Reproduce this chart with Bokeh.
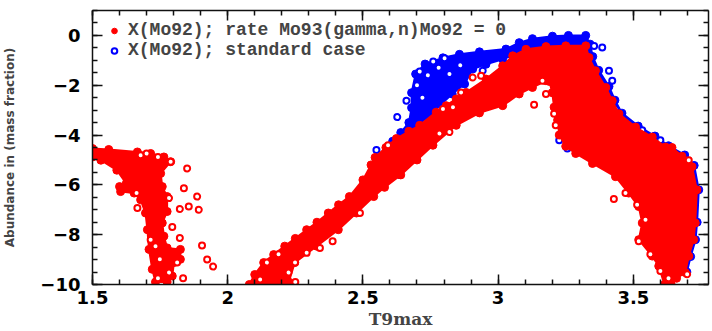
from bokeh.plotting import figure
from bokeh.models import (LinearAxis, SingleIntervalTicker, Range1d, Legend,
                          LegendItem, CustomJSTickFormatter)
from bokeh.embed import file_html
from bokeh.resources import INLINE

# ---------------- data ----------------
x_label = "T9max"
y_label = "Abundance in (mass fraction)"
red_label = "X(Mo92); rate Mo93(gamma,n)Mo92 = 0"
blue_label = "X(Mo92); standard case"

# dense red cloud, low-T9 group (outline of the saturated region)
red_left_x = [1.50, 1.56, 1.666, 1.715, 1.764, 1.789, 1.752, 1.758, 1.776, 1.776, 1.758, 1.764,
              1.776, 1.825, 1.825, 1.801, 1.795, 1.776, 1.733, 1.721, 1.709, 1.703, 1.696, 1.678,
              1.654, 1.604, 1.600, 1.625, 1.590, 1.531, 1.50]
red_left_y = [-4.54, -4.58, -4.68, -4.74, -4.88, -5.07, -5.54, -6.07, -6.47, -7.07, -7.53, -8.06,
              -8.53, -8.59, -8.99, -9.12, -9.66, -9.90, -9.90, -9.39, -8.59, -7.80, -7.13, -6.60,
              -6.33, -6.27, -6.07, -5.94, -5.41, -5.01, -4.88]

# dense red cloud, main arc (outline of the saturated region)
red_main_x = [2.080, 2.100, 2.133, 2.170, 2.211, 2.250, 2.292, 2.330, 2.372, 2.410, 2.450, 2.500,
              2.530, 2.545, 2.585, 2.624, 2.670, 2.710, 2.771, 2.808, 2.845, 2.882, 2.955, 3.017,
              3.054, 3.103, 3.177, 3.250, 3.324,
              3.336, 3.360, 3.398, 3.422, 3.447, 3.508, 3.570, 3.619, 3.643, 3.680, 3.717, 3.735,
              3.729, 3.723, 3.705, 3.692, 3.660, 3.640, 3.615,
              3.594, 3.570, 3.520, 3.533, 3.520, 3.483, 3.434, 3.349, 3.287, 3.250, 3.226, 3.220,
              3.207, 3.200, 3.190,
              3.177, 3.127, 3.078, 3.017, 2.931, 2.845, 2.759, 2.700, 2.640, 2.580, 2.540, 2.476,
              2.409, 2.329, 2.248, 2.226, 2.220]
red_main_y = [-10.0, -9.60, -9.12, -8.80, -8.46, -8.15, -7.80, -7.50, -7.13, -6.80, -6.47, -5.80,
              -5.20, -4.90, -4.50, -4.14, -3.85, -3.61, -3.08, -2.82, -2.55, -2.29, -1.75, -1.22,
              -0.82, -0.56, -0.45, -0.42, -0.42,
              -0.89, -1.42, -2.09, -2.62, -3.15, -3.68, -4.08, -4.48, -4.50, -4.85, -5.27, -6.20,
              -7.53, -8.20, -8.86, -9.52, -9.75, -10.0, -10.0,
              -9.26, -8.86, -8.20, -7.53, -6.87, -6.33, -5.67, -5.14, -4.74, -4.45, -4.00, -3.40,
              -2.88, -2.30, -1.85,
              -1.82, -2.09, -2.35, -2.82, -3.11, -3.61, -4.41, -5.00, -5.60, -6.10, -6.47, -7.13,
              -7.80, -8.46, -9.12, -9.90, -10.0]

# dense blue cloud (standard case) outline
blue_main_x = [2.610, 2.640, 2.670, 2.680, 2.680, 2.695, 2.730, 2.796, 2.857, 2.931, 3.029, 3.078,
               3.127, 3.201, 3.260, 3.324, 3.340, 3.350, 3.372, 3.410, 3.432, 3.458, 3.518, 3.580,
               3.630, 3.690, 3.725, 3.742, 3.736, 3.730, 3.712, 3.698,
               3.620, 3.560, 3.450, 3.300, 3.250, 3.100, 3.054,
               3.017, 2.955, 2.906, 2.876, 2.830, 2.790, 2.750, 2.700, 2.650]
blue_main_y = [-4.25, -3.90, -3.50, -2.90, -2.30, -1.55, -1.15, -0.90, -0.76, -0.66, -0.55, -0.29,
               -0.13, -0.03, 0.00, 0.00, -0.35, -0.85, -1.40, -2.05, -2.60, -3.12, -3.64, -4.04,
               -4.43, -4.80, -5.22, -6.20, -7.50, -8.20, -8.88, -9.50,
               -9.50, -7.00, -5.30, -4.00, -2.00, -1.00, -0.80,
               -0.96, -1.16, -1.35, -1.95, -2.35, -2.75, -3.20, -3.60, -4.00]

# isolated points
red_pts_x = [1.742, 1.789, 1.850, 1.838, 1.887, 1.856, 1.823, 1.893, 1.783, 1.666, 1.663, 1.795,
             1.823, 1.905, 1.924, 1.946, 1.835, 1.742, 1.813, 1.715, 1.733, 1.749, 1.783, 1.678,
             1.700,
             2.388, 2.341, 2.292, 2.249, 2.225, 2.188, 2.145, 2.489, 2.120, 2.250,
             2.906, 2.937, 2.863, 2.833, 2.796, 2.820, 2.783, 2.593, 3.133, 3.177, 3.164, 3.207,
             3.213,
             3.428, 3.471, 3.514, 3.520, 3.563, 3.600, 3.699, 3.705, 3.545, 3.630]
red_pts_y = [-4.88, -5.07, -5.34, -6.14, -6.47, -6.87, -6.97, -7.00, -6.53, -6.93, -6.33, -7.69,
             -8.13, -8.43, -9.00, -9.28, -9.75, -9.75, -9.12, -8.20, -8.46, -8.99, -9.52, -4.81,
             -4.74,
             -8.26, -8.53, -8.73, -9.12, -9.52, -8.79, -9.12, -7.13, -9.80, -9.90,
             -1.69, -1.62, -2.29, -2.88, -2.95, -3.88, -3.94, -4.41, -2.78, -2.35, -1.82, -3.15,
             -3.61,
             -6.57, -6.33, -6.80, -8.26, -8.79, -9.46, -9.59, -5.01, -7.40, -9.75]

blue_pts_x = [2.550, 2.636, 2.627, 2.661, 2.802, 2.943, 3.226, 3.256, 3.355, 3.385, 3.410, 3.422,
              3.434, 3.533, 3.600, 3.699, 2.700, 2.740, 2.780, 2.720, 2.820, 2.860, 2.760, 2.710]
blue_pts_y = [-4.60, -5.60, -3.28, -2.62, -0.92, -1.42, -4.21, -4.54, -0.43, -0.49, -1.42, -1.82,
              -2.95, -3.81, -4.21, -5.01, -2.00, -1.60, -1.30, -2.50, -1.55, -1.20, -1.05, -1.45]

RED = "#ff0000"
BLUE = "#0000ff"

p = figure(width=712, height=331, output_backend="svg", toolbar_location=None,
           x_range=Range1d(1.5, 3.778), y_range=Range1d(-10, 1),
           min_border_left=85, min_border_right=4, min_border_top=10, min_border_bottom=46,
           background_fill_color="white", border_fill_color="white")
p.xgrid.visible = False
p.ygrid.visible = False
p.outline_line_color = None

# blue (standard case) underneath
p.patch(blue_main_x, blue_main_y, fill_color=BLUE, line_color=BLUE, line_width=2)
p.scatter(blue_main_x, blue_main_y, size=8, fill_color=BLUE, line_color=BLUE)
r_blue = p.scatter(blue_pts_x, blue_pts_y, size=6, fill_color="white", line_color=BLUE,
                   line_width=2)

# red on top
p.patch(red_left_x, red_left_y, fill_color=RED, line_color=RED, line_width=2)
p.patch(red_main_x, red_main_y, fill_color=RED, line_color=RED, line_width=2)
r_red = p.scatter(red_main_x + red_left_x, red_main_y + red_left_y, size=8,
                  fill_color=RED, line_color=RED)
p.scatter(red_pts_x, red_pts_y, size=6, fill_color="white", line_color=RED, line_width=2)

fmt = CustomJSTickFormatter(code="""
    var s = (Math.round(tick*100)/100).toString();
    return s.replace('-', '\\u2212');
""")
blank = CustomJSTickFormatter(code="return '';")

def style_axis(ax, labels=True):
    ax.axis_line_color = "#111111"
    ax.axis_line_width = 1.5
    ax.major_tick_line_color = "#111111"
    ax.minor_tick_line_color = "#111111"
    ax.major_tick_line_width = 1.5
    ax.minor_tick_line_width = 1.5
    ax.major_tick_in = 10
    ax.major_tick_out = 0
    ax.minor_tick_in = 5
    ax.minor_tick_out = 0
    if labels:
        ax.major_label_text_font = "DejaVu Sans"
        ax.major_label_text_font_style = "bold"
        ax.major_label_text_font_size = "18px"
        ax.major_label_text_color = "black"
        ax.formatter = fmt
    else:
        ax.formatter = blank
        ax.major_label_text_font_size = "1px"
        ax.major_label_standoff = 0

xt = SingleIntervalTicker(interval=0.5, num_minor_ticks=5)
yt = SingleIntervalTicker(interval=2, num_minor_ticks=4)

for ax in p.xaxis:
    ax.ticker = xt
    style_axis(ax)
    ax.major_label_standoff = 6
    ax.axis_label = x_label
    ax.axis_label_text_font = "DejaVu Serif"
    ax.axis_label_text_font_style = "bold"
    ax.axis_label_text_font_size = "17px"
    ax.axis_label_standoff = 2
for ax in p.yaxis:
    ax.ticker = yt
    style_axis(ax)
    ax.major_label_standoff = 12
    ax.axis_label = y_label
    ax.axis_label_text_font = "DejaVu Sans"
    ax.axis_label_text_font_style = "bold"
    ax.axis_label_text_font_size = "12px"
    ax.axis_label_standoff = 20

top = LinearAxis(ticker=SingleIntervalTicker(interval=0.5, num_minor_ticks=5))
style_axis(top, labels=False)
p.add_layout(top, "above")
right = LinearAxis(ticker=SingleIntervalTicker(interval=2, num_minor_ticks=4))
style_axis(right, labels=False)
p.add_layout(right, "right")

legend = Legend(items=[LegendItem(label=red_label, renderers=[r_red]),
                       LegendItem(label=blue_label, renderers=[r_blue])],
                location=(15, 224), border_line_color=None, background_fill_alpha=0,
                label_text_font="Liberation Mono", label_text_font_style="bold",
                label_text_font_size="18px", label_text_line_height=0.9,
                glyph_width=14, glyph_height=19,
                label_height=19, label_standoff=7, spacing=-4, padding=0, margin=0)
p.add_layout(legend)

open("out.html", "w").write(file_html(p, INLINE))
